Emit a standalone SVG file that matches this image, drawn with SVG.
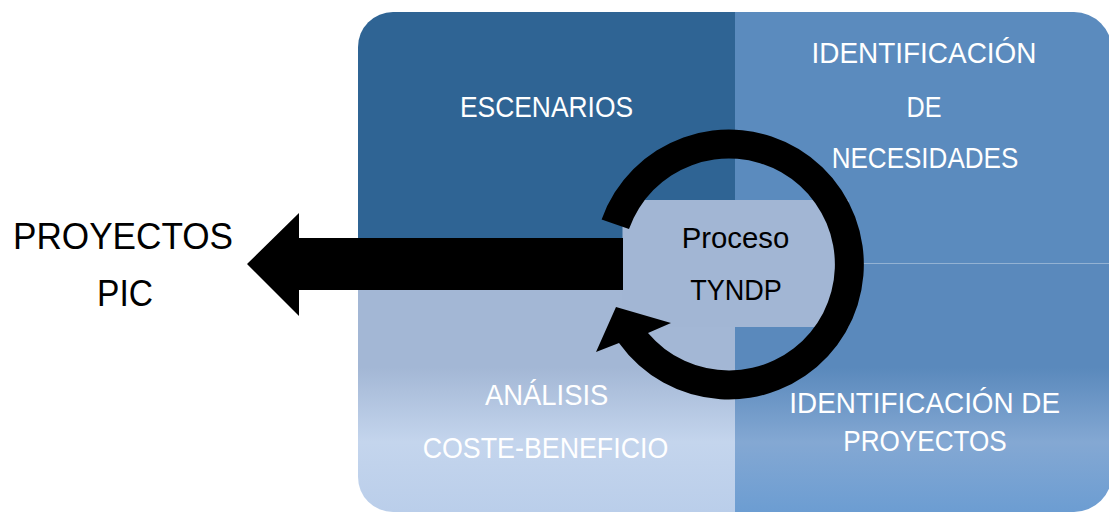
<svg xmlns="http://www.w3.org/2000/svg" width="1109" height="514" viewBox="0 0 1109 514">
  <defs>
    <linearGradient id="gBL" x1="0" y1="0" x2="0" y2="1">
      <stop offset="0" stop-color="#A3B7D5"/>
      <stop offset="0.42" stop-color="#A3B7D5"/>
      <stop offset="0.72" stop-color="#C4D5ED"/>
      <stop offset="1" stop-color="#BACEEA"/>
    </linearGradient>
    <linearGradient id="gBR" x1="0" y1="0" x2="0" y2="1">
      <stop offset="0" stop-color="#5A89BC"/>
      <stop offset="0.42" stop-color="#5A89BC"/>
      <stop offset="0.72" stop-color="#84A8D3"/>
      <stop offset="1" stop-color="#6C9DD2"/>
    </linearGradient>
    <style>
      .lbl { font-family: "Liberation Sans", Arial, sans-serif; font-size: 30px; fill: #FFFFFF; text-anchor: middle; }
      .dark { fill: #000000; }
      .big { font-family: "Liberation Sans", Arial, sans-serif; font-size: 36px; fill: #000000; text-anchor: middle; }
      .conn { fill: #000000; stroke: none; }
    </style>
  </defs>
  <rect width="1109" height="514" fill="#FFFFFF"/>

  <g id="escenarios">
    <path d="M358,47 A35,35 0 0 1 393,12 H735 V263 H358 Z" fill="#2F6494"/>
    <text class="lbl" x="546.5" y="117" textLength="173" lengthAdjust="spacingAndGlyphs">ESCENARIOS</text>
  </g>

  <g id="identificacion-necesidades">
    <path d="M735,12 H1074 A38,38 0 0 1 1112,50 V263 H735 Z" fill="#5B8BBE"/>
    <text class="lbl" x="924" y="63.3" textLength="225" lengthAdjust="spacingAndGlyphs">IDENTIFICACIÓN</text>
    <text class="lbl" x="924" y="116.7" textLength="35" lengthAdjust="spacingAndGlyphs">DE</text>
    <text class="lbl" x="925" y="168.3" textLength="186.6" lengthAdjust="spacingAndGlyphs">NECESIDADES</text>
  </g>

  <g id="identificacion-proyectos">
    <path d="M735,263 H1112 V474 A38,38 0 0 1 1074,512 H735 Z" fill="url(#gBR)"/>
    <line x1="735" y1="263.5" x2="1112" y2="263.5" stroke="#FFFFFF" stroke-opacity="0.35" stroke-width="1"/>
    <text class="lbl" x="924.7" y="412.7" textLength="270.7" lengthAdjust="spacingAndGlyphs">IDENTIFICACIÓN DE</text>
    <text class="lbl" x="925" y="450.7" textLength="163.4" lengthAdjust="spacingAndGlyphs">PROYECTOS</text>
  </g>

  <g id="analisis">
    <path d="M358,263 H735 V512 H393 A35,35 0 0 1 358,477 Z" fill="url(#gBL)"/>
    <text class="lbl" x="546.7" y="405" textLength="123.3" lengthAdjust="spacingAndGlyphs">ANÁLISIS</text>
    <text class="lbl" x="545.5" y="458.3" textLength="245.6" lengthAdjust="spacingAndGlyphs">COSTE-BENEFICIO</text>
  </g>

  <g id="proceso-tyndp">
    <rect x="622.5" y="200" width="226" height="127" fill="#A2B6D4"/>
    <text class="lbl dark" x="735.5" y="248.3" textLength="107.6" lengthAdjust="spacingAndGlyphs">Proceso</text>
    <text class="lbl dark" x="736" y="300" textLength="91.7" lengthAdjust="spacingAndGlyphs">TYNDP</text>
  </g>

  <g id="proyectos-pic">
    <text class="big" x="123" y="249" textLength="220" lengthAdjust="spacingAndGlyphs">PROYECTOS</text>
    <text class="big" x="125" y="306" textLength="56" lengthAdjust="spacingAndGlyphs">PIC</text>
  </g>

  <g id="connectors">
    <polygon class="conn" points="623,238 299,238 299,213 247,264 299,316 299,290 623,290"/>
    <path class="conn" d="M601.6,219.4 A135,135 0 1 1 619,343 L596,352 L616,307 L671,323 L648,333 A106,106 0 1 0 629,229 Z"/>
  </g>
</svg>
